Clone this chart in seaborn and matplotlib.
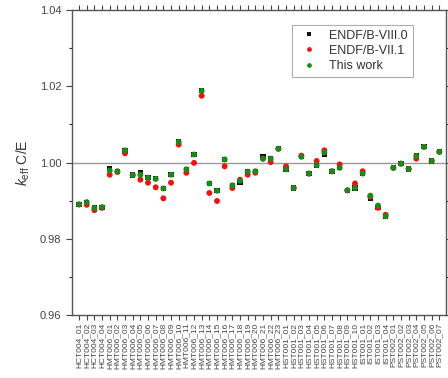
"""k_eff C/E comparison across benchmark cases."""

import numpy as np
import pandas as pd
import matplotlib
matplotlib.use('Agg')
import matplotlib.pyplot as plt
from matplotlib.ticker import MultipleLocator
import seaborn as sns

# benchmark case names
cases = (
    [f'HCT004_{i:02d}' for i in range(1, 5)]
    + [f'HMT006_{i:02d}' for i in range(1, 24)]
    + [f'HST001_{i:02d}' for i in range(1, 11)]
    + [f'IST001_{i:02d}' for i in range(1, 5)]
    + [f'PST002_{i:02d}' for i in range(1, 8)]
)

endf_80 = [
    0.9890, 0.9896, 0.9881, 0.9883, 0.9983, 0.9977, 1.0032, 0.9967, 0.9973, 0.9960,
    0.9957, 0.9932, 0.9968, 1.0054, 0.9982, 1.0021, 1.0188, 0.9945, 0.9926, 1.0008,
    0.9940, 0.9947, 0.9976, 0.9977, 1.0015, 1.0010, 1.0036, 0.9982, 0.9933, 1.0015,
    0.9971, 0.9993, 1.0021, 0.9977, 0.9986, 0.9927, 0.9933, 0.9971, 0.9907, 0.9881,
    0.9859, 0.9986, 0.9997, 0.9983, 1.0017, 1.0041, 1.0004, 1.0028,
]
endf_71 = [
    0.9890, 0.9889, 0.9875, 0.9881, 0.9968, 0.9975, 1.0024, 0.9967, 0.9955, 0.9947,
    0.9935, 0.9906, 0.9947, 1.0047, 0.9973, 0.9999, 1.0175, 0.9920, 0.9899, 0.9990,
    0.9933, 0.9955, 0.9968, 0.9973, 1.0010, 1.0001, 1.0036, 0.9990, 0.9933, 1.0018,
    0.9971, 1.0004, 1.0032, 0.9977, 0.9995, 0.9927, 0.9945, 0.9977, 0.9910, 0.9881,
    0.9863, 0.9986, 0.9997, 0.9983, 1.0010, 1.0041, 1.0004, 1.0028,
]
this_work = [
    0.9890, 0.9896, 0.9881, 0.9883, 0.9979, 0.9977, 1.0032, 0.9967, 0.9968, 0.9960,
    0.9957, 0.9932, 0.9968, 1.0054, 0.9982, 1.0021, 1.0188, 0.9945, 0.9926, 1.0008,
    0.9940, 0.9952, 0.9976, 0.9977, 1.0010, 1.0010, 1.0036, 0.9982, 0.9933, 1.0015,
    0.9971, 0.9993, 1.0026, 0.9977, 0.9986, 0.9927, 0.9933, 0.9971, 0.9913, 0.9887,
    0.9859, 0.9986, 0.9997, 0.9983, 1.0017, 1.0041, 1.0004, 1.0028,
]

series = ['ENDF/B-VIII.0', 'ENDF/B-VII.1', 'This work']
colors = {'ENDF/B-VIII.0': '#111111', 'ENDF/B-VII.1': '#ee1111', 'This work': '#1a8a1a'}
markers = {'ENDF/B-VIII.0': 's', 'ENDF/B-VII.1': 'o', 'This work': 'o'}
sizes = {'ENDF/B-VIII.0': 14, 'ENDF/B-VII.1': 18, 'This work': 18}

df = pd.DataFrame({
    'case': np.tile(np.arange(len(cases)), 3),
    'value': endf_80 + endf_71 + this_work,
    'library': np.repeat(series, len(cases)),
})

sns.set_style('ticks')
plt.rcParams['font.family'] = ['Liberation Sans', 'DejaVu Sans']
plt.rcParams['mathtext.fontset'] = 'custom'
plt.rcParams['mathtext.it'] = 'Liberation Sans:italic'
plt.rcParams['mathtext.rm'] = 'Liberation Sans'

fig = plt.figure(figsize=(4.48, 3.78), dpi=100)
ax = fig.add_axes([0.1607, 0.1667, 0.8348, 0.8068])

ax.axhline(1.0, color='#999999', lw=1.0, zorder=1)

sns.scatterplot(data=df, x='case', y='value', hue='library', style='library',
                size='library', sizes=sizes,
                palette=colors, markers=markers, hue_order=series, style_order=series,
                size_order=series, linewidth=0, ax=ax, zorder=3)

ax.set_xlim(-0.92, len(cases) - 0.13)
ax.set_ylim(0.96, 1.04)
ax.set_xticks(np.arange(len(cases)))
ax.set_xticklabels(cases, rotation=90, fontsize=6, color='#444444')
ax.yaxis.set_major_locator(MultipleLocator(0.02))
ax.yaxis.set_minor_locator(MultipleLocator(0.01))
ax.yaxis.set_major_formatter(plt.FormatStrFormatter('%.2f'))
ax.tick_params(axis='y', labelsize=8, colors='#444444', length=4, width=0.8,
               right=True, direction='out')
ax.tick_params(axis='y', which='minor', length=2.5, width=0.8, right=True)
ax.tick_params(axis='x', length=3.5, width=0.8, top=True, direction='out',
               colors='#444444', pad=2)
for sp in ax.spines.values():
    sp.set_visible(True)
    sp.set_color('#555555')
    sp.set_linewidth(1.0)

ax.set_xlabel('')
ax.set_ylabel(r'$k_{\rm eff}$ C/E', fontsize=10, color='#333333', labelpad=6)

leg = ax.legend(loc='upper left', bbox_to_anchor=(0.588, 0.952), fontsize=9,
                frameon=True, fancybox=False, edgecolor='#999999',
                handletextpad=0.6, borderpad=0.4, labelspacing=0.25,
                markerscale=0.8, borderaxespad=0)
leg.get_frame().set_linewidth(0.8)
for t in leg.get_texts():
    t.set_color('#333333')

fig.savefig('out.png', dpi=100)
